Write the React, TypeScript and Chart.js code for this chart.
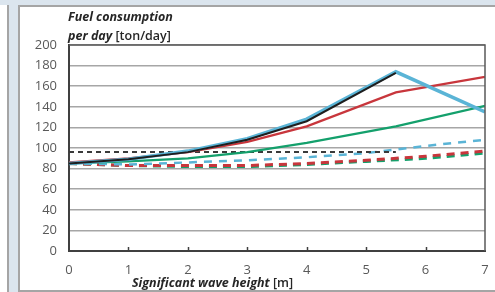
import React, { useEffect, useRef } from "react";
import { Chart, registerables } from "chart.js";

Chart.register(...registerables);

// ---- data ----
const X_SOLID = [0, 1, 2, 3, 4, 5.5, 7];
const BLACK_SOLID = [85, 89, 96, 108, 126, 173];
const CYAN_SOLID = [85, 89, 97, 109, 128, 174, 135];
const RED_SOLID = [86, 90, 96, 106, 121, 154, 169];
const GREEN_SOLID = [85, 87, 90, 96, 105, 121, 141];

const X_DASH = [0, 1, 2, 3, 4, 5, 6, 7];
const CYAN_DASH = [85, 84, 86, 88, 91, 95, 102, 108];
const RED_DASH = [85, 83, 83, 83, 85, 88, 92, 97];
const GREEN_DASH = [85, 83, 82, 82, 84, 87, 90, 95];

const X_BLACK_DASH = [0, 1, 2, 3, 4, 5, 5.5];
const BLACK_DASH = [96, 96, 96, 96, 96, 96, 96];

const X_TICKS = [0, 1, 2, 3, 4, 5, 6, 7];
const Y_TICKS = [0, 20, 40, 60, 80, 100, 120, 140, 160, 180, 200];

const Y_TITLE_1 = "Fuel consumption";
const Y_TITLE_2A = "per day";
const Y_TITLE_2B = " [ton/day]";
const X_TITLE_A = "Significant wave height";
const X_TITLE_B = " [m]";

const pts = (xs: number[], ys: number[]) => ys.map((y, i) => ({ x: xs[i], y }));

const FONT = '"Open Sans", "Liberation Sans", sans-serif';

const decorPlugin = {
  id: "decor",
  afterDraw(chart: any) {
    const { ctx, chartArea, scales } = chart;
    const xs = scales.x;
    ctx.save();
    // plot frame top/right
    ctx.strokeStyle = "#5a5a5a";
    ctx.lineWidth = 1.5;
    ctx.beginPath();
    ctx.moveTo(chartArea.left, chartArea.top);
    ctx.lineTo(chartArea.right, chartArea.top);
    ctx.lineTo(chartArea.right, chartArea.bottom);
    ctx.stroke();
    // inward x ticks
    ctx.strokeStyle = "#404040";
    ctx.lineWidth = 1.5;
    X_TICKS.slice(1, -1).forEach((v) => {
      const px = Math.round(xs.getPixelForValue(v)) + 0.5;
      ctx.beginPath();
      ctx.moveTo(px, chartArea.bottom);
      ctx.lineTo(px, chartArea.bottom - 4);
      ctx.stroke();
    });
    // titles
    ctx.fillStyle = "#262626";
    ctx.textBaseline = "middle";
    ctx.textAlign = "left";
    const bi = `italic bold 12.5px ${FONT}`;
    const rg = `600 12.5px ${FONT}`;
    ctx.font = bi;
    ctx.fillText(Y_TITLE_1, 68, 17);
    ctx.fillText(Y_TITLE_2A, 68, 36);
    const w2 = ctx.measureText(Y_TITLE_2A).width;
    ctx.font = rg;
    ctx.fillText(Y_TITLE_2B, 68 + w2, 36);
    ctx.font = bi;
    ctx.fillText(X_TITLE_A, 132, 283);
    const w3 = ctx.measureText(X_TITLE_A).width;
    ctx.font = rg;
    ctx.fillText(X_TITLE_B, 132 + w3, 283);
    ctx.restore();
  },
};

export default function App() {
  const ref = useRef<HTMLCanvasElement | null>(null);
  useEffect(() => {
    if (!ref.current) return;
    const solid = (label: string, xs: number[], ys: number[], color: string, width: number, order: number) => ({
      label,
      data: pts(xs, ys),
      borderColor: color,
      borderWidth: width,
      pointRadius: 0,
      tension: 0,
      fill: false,
      order,
    });
    const dashed = (label: string, xs: number[], ys: number[], color: string, width: number, dash: number[], order: number) => ({
      ...solid(label, xs, ys, color, width, order),
      borderDash: dash,
    });
    const chart = new Chart(ref.current, {
      type: "line",
      data: {
        datasets: [
          solid("black", X_SOLID.slice(0, BLACK_SOLID.length), BLACK_SOLID, "#1e1e1e", 2, 0),
          solid("cyan", X_SOLID, CYAN_SOLID, "#5ab4d6", 3.5, 1),
          solid("red", X_SOLID, RED_SOLID, "#c8363c", 2.2, 2),
          solid("green", X_SOLID, GREEN_SOLID, "#14a06c", 2.2, 3),
          dashed("black dashed", X_BLACK_DASH, BLACK_DASH, "#3a3a3a", 2, [5, 4], 4),
          dashed("cyan dashed", X_DASH, CYAN_DASH, "#5ab4d6", 2.5, [8, 7], 5),
          dashed("red dashed", X_DASH, RED_DASH, "#c8363c", 3, [8, 6], 6),
          dashed("green dashed", X_DASH, GREEN_DASH, "#14a06c", 3, [8, 6], 7),
        ],
      },
      options: {
        responsive: false,
        animation: false,
        devicePixelRatio: 1,
        layout: { padding: { left: 0, top: 45, right: 0, bottom: 0 } },
        plugins: { legend: { display: false }, tooltip: { enabled: false }, title: { display: false } },
        scales: {
          x: {
            type: "linear",
            min: 0,
            max: 7,
            afterFit: (s: any) => { s.height = 41; s.paddingRight = 10; },
            afterBuildTicks: (s: any) => { s.ticks = X_TICKS.map((v) => ({ value: v })); },
            grid: { display: true, drawOnChartArea: false, drawTicks: false },
            border: { display: true, color: "#404040", width: 2 },
            ticks: { color: "#595959", font: { family: FONT, size: 13 }, padding: 11, maxRotation: 0 },
          },
          y: {
            type: "linear",
            min: 0,
            max: 200,
            afterFit: (s: any) => { s.width = 69; },
            afterBuildTicks: (s: any) => { s.ticks = Y_TICKS.map((v) => ({ value: v })); },
            grid: { color: "#a6a6a6", lineWidth: 1.5, drawTicks: false },
            border: { display: true, color: "#404040", width: 2 },
            ticks: { color: "#595959", font: { family: FONT, size: 13 }, padding: 12 },
          },
        },
      },
      plugins: [decorPlugin],
    } as any);
    return () => chart.destroy();
  }, []);

  return (
    <div style={{ position: "fixed", left: 0, top: 0, width: 495, height: 292, background: "#dbe5ee", overflow: "hidden" }}>
      <div style={{ position: "absolute", left: 0, top: 5, width: 7, height: 287, background: "#fff", borderRight: "2px solid #a5a5a5" }} />
      <div style={{ position: "absolute", left: 18, top: 5, width: 520, height: 283, background: "#fff", border: "2px solid #a5a5a5" }} />
      <canvas ref={ref} width={495} height={292} style={{ position: "absolute", left: 0, top: 0, width: 495, height: 292 }} />
    </div>
  );
}
